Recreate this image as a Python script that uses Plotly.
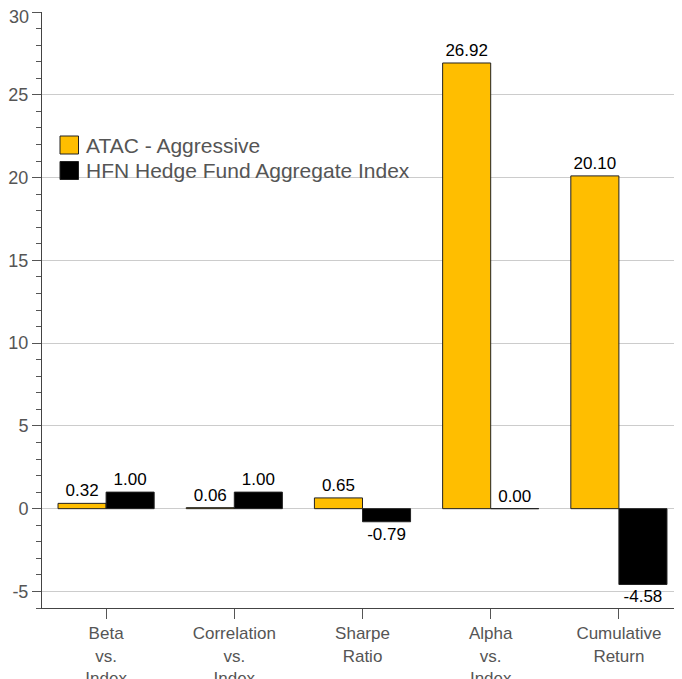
import plotly.graph_objects as go

categories = ["Beta<br>vs.<br>Index", "Correlation<br>vs.<br>Index", "Sharpe<br>Ratio",
              "Alpha<br>vs.<br>Index", "Cumulative<br>Return"]
series_names = ["ATAC - Aggressive", "HFN Hedge Fund Aggregate Index"]
atac_values = [0.32, 0.06, 0.65, 26.92, 20.10]
hfn_values = [1.00, 1.00, -0.79, 0.00, -4.58]
y_ticks = [-5, 0, 5, 10, 15, 20, 25, 30]
colors = ["#FFBE00", "#000000"]

FONT = "Arial, Liberation Sans, sans-serif"

# plot area in screenshot pixels (page has 8px body offset)
PL, PT, PW, PH = 42, 12, 641, 596

fig = go.Figure()
for name, vals, col in zip(series_names, [atac_values, hfn_values], colors):
    fig.add_trace(go.Bar(
        x=categories, y=vals, name=name,
        marker=dict(color=col, line=dict(color="#222222", width=1)),
        text=[f"{v:.2f}" for v in vals], textposition="outside",
        textfont=dict(family=FONT, size=17, color="#000000"),
        cliponaxis=False, showlegend=False,
    ))

fig.update_layout(
    width=675, height=671,
    margin=dict(l=34, r=0, t=4, b=71),
    paper_bgcolor="white", plot_bgcolor="white",
    barmode="group", bargap=0.25, bargroupgap=0,
    font=dict(family=FONT, color="#555555"),
)
fig.update_xaxes(
    showline=True, linecolor="#444444", linewidth=1,
    ticks="outside", ticklen=10, tickcolor="#555555",
    tickfont=dict(size=17, color="#555555", family=FONT),
    automargin=False, showgrid=False, ticklabeloverflow="allow",
)
# top label is nudged down (as in the reference) so it is drawn separately
fig.update_yaxes(
    range=[-6, 30], tickvals=y_ticks,
    ticktext=[str(t) for t in y_ticks[:-1]] + [""],
    showline=True, linecolor="#444444", linewidth=1,
    ticks="outside", ticklen=9, tickcolor="#555555",
    minor=dict(dtick=1, ticks="outside", ticklen=5, tickcolor="#555555", showgrid=False),
    tickfont=dict(size=18, color="#555555", family=FONT),
    showgrid=True, gridcolor="#CCCCCC", gridwidth=1,
    zeroline=True, zerolinecolor="#CCCCCC", zerolinewidth=1,
    automargin=False, ticklabeloverflow="allow",
)
fig.add_annotation(xref="paper", yref="y", x=0, y=y_ticks[-1], text=str(y_ticks[-1]),
                   showarrow=False, xanchor="right", yanchor="middle",
                   xshift=-11, yshift=-5,
                   font=dict(size=18, color="#555555", family=FONT))

# custom legend
leg_y = [145, 170.5]
for i, (name, col) in enumerate(zip(series_names, colors)):
    yc = 1 - (leg_y[i] - PT) / PH
    fig.add_shape(type="rect", xref="paper", yref="paper",
                  x0=(60 - PL) / PW, x1=(78.5 - PL) / PW,
                  y0=yc - 9 / PH, y1=yc + 9 / PH,
                  fillcolor=col, line=dict(color="#222222", width=1))
    fig.add_annotation(xref="paper", yref="paper", x=(84 - PL) / PW, y=yc,
                       text=name, showarrow=False, xanchor="left", yanchor="middle",
                       font=dict(size=21, color="#555555", family=FONT))

fig.write_html("out.html")
